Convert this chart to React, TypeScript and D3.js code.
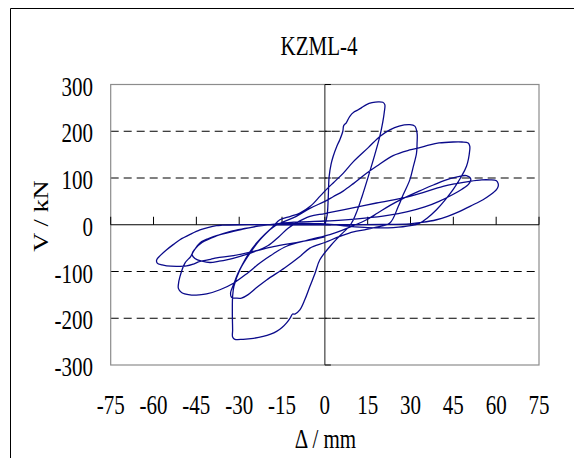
import React from 'react';
import * as d3 from 'd3';

// hysteresis curve, displacement (mm) / shear (kN)
const disp: number[] = [
  0, 0.8, 1.2, 1.5, 2.2, 2.9, 4.2, 5.25, 6.3, 6.6, 7.5, 8.75, 10.2, 11.7, 13, 14.6, 16.5, 18.7, 20.3, 21, 20.8, 20.3, 19.25, 17.5, 15.2, 13, 11, 9, 5, 2,
  -1.75, -3.5, -5.25, -7, -8.75, -10.5, -11.3, -12, -13.4, -15, -16.9, -19, -21.6, -25, -28.6, -31.5, -32.3, -32.3, -32.4, -32.3, -31.85, -29.75, -26.25, -22.75, -18.1, -15.75, -12, -8.75, -5, -1.75,
  0, 3, 6.4, 10, 15.2, 19.25, 22.75, 26, 29.75, 31.5, 32.3, 32.3, 32.1, 31, 29.75, 27.5, 25.7, 22.75,
  18, 14.6, 10, 5.25, 0, -5.25, -8.75, -14, -20.4, -24, -27, -29.2, -31, -32.7, -33, -32, -30.5, -28.6, -26.5, -23.9, -21, -18.1, -15, -10, -5.25, 0, 2.9, 6.4, 10, 14.6, 18.1, 23.9, 29.75, 33.25, 36.75, 40, 44.9, 48, 50.2, 50.75, 50.75, 49.6, 47.5, 44.9, 42, 39.1, 36, 33.25,
  30, 24, 15, 8, 0, -8.75, -15.75, -22.75, -29.75, -36, -41, -43.75, -46, -47, -49, -50.75, -51.3, -51.3, -50.2, -47.25, -44, -41.4, -36.75, -32, -27, -22.75, -18, -13.4, -6, 1.75,
  6, 10, 14.6, 18.5, 23, 28, 33, 38, 42, 46, 49.6, 51.1, 50.5, 48, 44, 40, 35, 29, 22, 14, 6, 0, -8.75, -15.75, -22, -28, -33, -38, -43, -45.5, -46.5, -45.5, -43, -40.25, -37, -34.4, -30, -26.25, -20, -16, -13, -10, -5.25, 0, 6.4, 18.1, 29.75, 41.4, 46, 50.75, 55, 57.75, 60.1, 60.7, 60.7, 60.1, 58, 55.4, 51, 47.25, 43, 39.1, 34, 29.75, 20, 10, 0, -10, -20, -30, -36, -38,
  -41, -43.75, -47, -50.75, -53, -55.4, -57.5, -58.9, -58.7, -57, -55.4, -52, -48.4, -46, -43.75, -40, -37.9, -32, -25, -18, -10, -3, 0,
];
const shear: number[] = [
  0, 20, 60, 103, 130, 146, 168, 182, 200, 212, 218, 232, 241, 246, 251, 257, 261, 263, 262, 257, 240, 220, 189, 150, 103, 60, 25, 0, -25, -45,
  -75, -105, -132, -160, -182, -191, -191, -198, -210, -220, -228, -234, -239, -243, -245, -245, -240, -225, -189, -153, -132, -96, -61, -32, -3.6, 10.7, 18, 25, 40, 60.6,
  72, 90, 110, 135, 165, 189, 203, 211, 214, 211, 196, 175, 153, 125, 96, 65, 39, 3.6,
  -5, -10, -15, -25, -38, -50, -68, -92, -118, -135, -150, -157, -157, -155, -145, -128.5, -105, -82, -60, -39, -20, -5, 5, 18, 35, 50, 60, 72, 88, 110, 125, 148, 160, 165, 171, 175, 177, 177, 175, 168, 160, 125, 100, 75, 52, 32, 15, 3.6,
  -2, -6, -6, -3, 2, 3, 2, -2, -10.7, -20, -30, -39, -57, -68, -82, -111, -128, -136, -145, -150, -150, -148, -139, -125, -103, -82, -62, -46, -33, -21,
  -12, -2, 10.7, 25, 42, 58, 72, 85, 95, 102, 105, 98, 88, 76, 62, 50, 38, 28, 20, 14, 10, 8, 6, 3, -2, -8, -14, -24, -38, -52, -63, -72, -78, -80.7, -78, -75, -68, -61, -45, -25, -8, 4, 17.8, 24, 32, 46.5, 60.6, 82, 88, 93, 96, 96, 94, 88, 82, 75, 64, 53.5, 40, 28.5, 18, 10.7, 5, 2, 0.5, 0, 0, 0, 0, 0, -1, -2,
  -6, -11, -20, -32, -42, -53.5, -65, -75, -82, -86, -88, -89, -88, -84, -78.5, -74, -71, -66, -57, -47, -38, -30, -26,
];

const xTicks = [-75, -60, -45, -30, -15, 0, 15, 30, 45, 60, 75];
const yTicks = [-300, -200, -100, 0, 100, 200, 300];
const gridValues = [200, 100, -100, -200];

const title = 'KZML-4';
const xLabel = 'Δ / mm';
const yLabel = 'V / kN';

const FONT = '"Liberation Serif", "Times New Roman", serif';

export default function App() {
  const x = d3.scaleLinear().domain([-75, 75]).range([110.7, 539]);
  const y = d3.scaleLinear().domain([-300, 300]).range([365, 84.5]);
  const x0 = x(0);
  const y0 = y(0);

  const pts = disp.map((d, i) => [d, shear[i]] as [number, number]);
  const line = d3.line<[number, number]>()
    .x((d) => x(d[0]))
    .y((d) => y(d[1]))
    .curve(d3.curveCatmullRom.alpha(0.5));

  return (
    <svg width={574} height={458} style={{ position: 'absolute', left: 0, top: 0 }}>
      <rect x={0} y={0} width={574} height={458} fill="#fff" />
      {/* outer frame */}
      <line x1={10.5} y1={8.5} x2={574} y2={8.5} stroke="#000" />
      <line x1={10.5} y1={8.5} x2={10.5} y2={458} stroke="#000" />

      <text transform={`translate(319,55) scale(1,1.3)`} textAnchor="middle" fontFamily={FONT} fontSize={21}>{title}</text>

      {/* dashed grid */}
      {gridValues.map((v) => (
        <line key={v} x1={x(-75)} x2={x(75)} y1={y(v)} y2={y(v)} stroke="#000" strokeDasharray="8,5" />
      ))}
      {/* plot border */}
      <rect x={x(-75)} y={y(300)} width={x(75) - x(-75)} height={y(-300) - y(300)} fill="none" stroke="#8c8c8c" strokeWidth={1.2} />

      {/* zero axes */}
      <line x1={x(-75)} x2={x(75)} y1={y0} y2={y0} stroke="#000" strokeWidth={1.2} />
      <line x1={x0} x2={x0} y1={y(300)} y2={y(-300)} stroke="#404040" strokeWidth={1.2} />
      {xTicks.map((t) => (
        <line key={t} x1={x(t)} x2={x(t)} y1={y0} y2={y0 - 8} stroke="#000" />
      ))}
      {yTicks.map((t) => (
        <line key={t} x1={x0} x2={x0 + 6} y1={y(t)} y2={y(t)} stroke="#000" />
      ))}

      <path d={line(pts) || ''} fill="none" stroke="#0a0a8a" strokeWidth={1.3} />

      {/* tick labels */}
      {yTicks.map((t) => (
        <text key={t} transform={`translate(93,${y(t) + 11}) scale(1,1.25)`} textAnchor="end" fontFamily={FONT} fontSize={21}>{t}</text>
      ))}
      {xTicks.map((t) => (
        <text key={t} transform={`translate(${x(t)},414) scale(1,1.25)`} textAnchor="middle" fontFamily={FONT} fontSize={21}>{t}</text>
      ))}

      <text transform={`translate(325.5,448) scale(1,1.35)`} textAnchor="middle" fontFamily={FONT} fontSize={21}>{xLabel}</text>
      <text transform={`translate(48,216) scale(1,1.2) rotate(-90)`} textAnchor="middle" fontFamily={FONT} fontSize={22}>{yLabel}</text>
    </svg>
  );
}
